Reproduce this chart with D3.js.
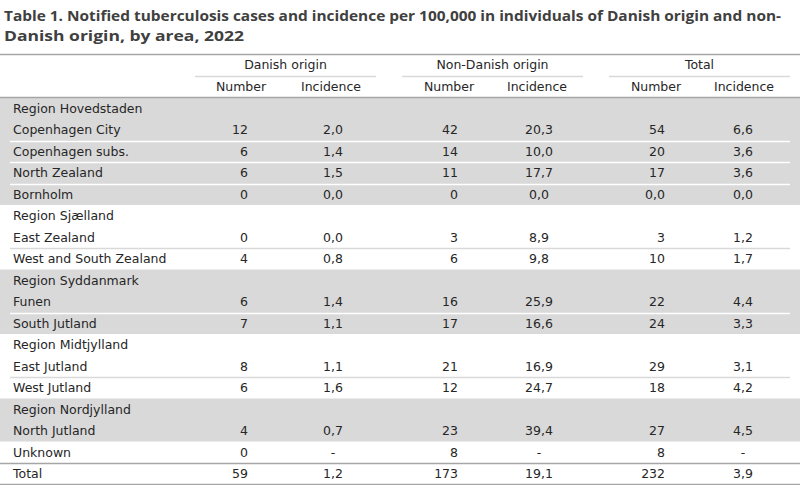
<!DOCTYPE html>
<html><head><meta charset="utf-8">
<script src="https://cdn.jsdelivr.net/npm/d3@7"></script>
<style>body{margin:0;background:#fff}svg{display:block}</style>
</head><body><svg id="c" width="800" height="485"></svg>
<script>
const titleLines = ["Table 1. Notified tuberculosis cases and incidence per 100,000 in individuals of Danish origin and non-", "Danish origin, by area, 2022"];
const groups = ["Danish origin", "Non-Danish origin", "Total"];
const subHeaders = ["Number", "Incidence"];
const areas = ["Region Hovedstaden","Copenhagen City","Copenhagen subs.","North Zealand","Bornholm","Region Sjælland","East Zealand","West and South Zealand","Region Syddanmark","Funen","South Jutland","Region Midtjylland","East Jutland","West Jutland","Region Nordjylland","North Jutland","Unknown","Total"];
const danishNumber = ["","12","6","6","0","","0","4","","6","7","","8","6","","4","0","59"];
const danishIncidence = ["","2,0","1,4","1,5","0,0","","0,0","0,8","","1,4","1,1","","1,1","1,6","","0,7","-","1,2"];
const nonDanishNumber = ["","42","14","11","0","","3","6","","16","17","","21","12","","23","8","173"];
const nonDanishIncidence = ["","20,3","10,0","17,7","0,0","","8,9","9,8","","25,9","16,6","","16,9","24,7","","39,4","-","19,1"];
const totalNumber = ["","54","20","17","0,0","","3","10","","22","24","","29","18","","27","8","232"];
const totalIncidence = ["","6,6","3,6","3,6","0,0","","1,2","1,7","","4,4","3,3","","3,1","4,2","","4,5","-","3,9"];
const shadedBlocks = [[0,4],[8,10],[14,15]];

const svg = d3.select("#c");
const font = "'DejaVu Sans', sans-serif";
const txt = "#262626";
const rows = areas.map((a,i)=>({area:a, vals:[danishNumber[i],danishIncidence[i],nonDanishNumber[i],nonDanishIncidence[i],totalNumber[i],totalIncidence[i]], isRegion: danishNumber[i]===""}));

const y = d3.scaleBand().domain(d3.range(areas.length)).range([97.5, 484.5]).padding(0);
const colX = d3.scaleOrdinal().domain(d3.range(6)).range([248, 333, 458, 539, 665, 743]);
const colAnchor = i => i%2===0 ? "end" : "middle";
const groupX = d3.scaleOrdinal().domain(groups).range([[195,376],[402,583],[609,790]]);
const subX = d3.scaleOrdinal().domain(d3.range(6)).range([241, 331, 449, 537, 656, 744]);

// title
svg.selectAll("text.title").data(titleLines).join("text").attr("class","title")
  .attr("x",4).attr("y",(d,i)=>21+i*20).attr("font-family","'Open Sans', sans-serif").attr("font-weight","bold")
  .attr("font-size",15).attr("fill","#404040").text(d=>d)
  .attr("textLength",(d,i)=>i===0?777:240).attr("lengthAdjust","spacingAndGlyphs");

// shaded backgrounds
svg.selectAll("rect.shade").data(shadedBlocks).join("rect").attr("class","shade")
  .attr("x",0).attr("width",800).attr("y",d=>y(d[0])).attr("height",d=>y(d[1])+y.bandwidth()-y(d[0]))
  .attr("fill","#d9d9d9");

// separator lines between consecutive data rows within a block
const sepRows = rows.map((r,i)=>i).filter(i=> i>0 && i<areas.length-2 && !rows[i].isRegion && !rows[i-1].isRegion && !shadedBlocks.some(b=>b[0]===i));
svg.selectAll("line.sep").data(sepRows).join("line").attr("class","sep")
  .attr("x1",10).attr("x2",790).attr("y1",i=>Math.round(y(i))+0.5).attr("y2",i=>Math.round(y(i))+0.5)
  .attr("stroke",i=>shadedBlocks.some(b=>i>=b[0]&&i<=b[1])?"#ffffff":"#d9d9d9").attr("stroke-width",1.5);

// rules
const rules = [54, 97, y(areas.length-1), 484];
svg.selectAll("line.rule").data(rules).join("line").attr("class","rule")
  .attr("x1",0).attr("x2",800).attr("y1",d=>Math.round(d)+0.5).attr("y2",d=>Math.round(d)+0.5)
  .attr("stroke","#a6a6a6").attr("stroke-width",1.5);

// group headers
svg.selectAll("text.group").data(groups).join("text").attr("class","group")
  .attr("x",d=>(groupX(d)[0]+groupX(d)[1])/2).attr("y",69).attr("text-anchor","middle")
  .attr("font-family",font).attr("font-size",12.5).attr("fill",txt).text(d=>d);
svg.selectAll("line.gline").data(groups).join("line").attr("class","gline")
  .attr("x1",d=>groupX(d)[0]).attr("x2",d=>groupX(d)[1]).attr("y1",76.5).attr("y2",76.5)
  .attr("stroke","#d9d9d9").attr("stroke-width",1.5);
svg.selectAll("text.sub").data(d3.range(6)).join("text").attr("class","sub")
  .attr("x",i=>subX(i)).attr("y",91).attr("text-anchor","middle")
  .attr("font-family",font).attr("font-size",12.5).attr("fill",txt).text(i=>subHeaders[i%2]);

// body
const g = svg.selectAll("g.row").data(rows).join("g").attr("class","row")
  .attr("transform",(d,i)=>`translate(0,${y(i)+y.bandwidth()/2+4.5})`);
g.append("text").attr("x",13).attr("font-family",font).attr("font-size",12.5).attr("fill",txt).text(d=>d.area);
g.selectAll("text.v").data(d=>d.vals).join("text").attr("class","v")
  .attr("x",(d,i)=>colX(i)).attr("text-anchor",(d,i)=>colAnchor(i))
  .attr("font-family",font).attr("font-size",12.5).attr("fill",txt).text(d=>d);
</script></body></html>
